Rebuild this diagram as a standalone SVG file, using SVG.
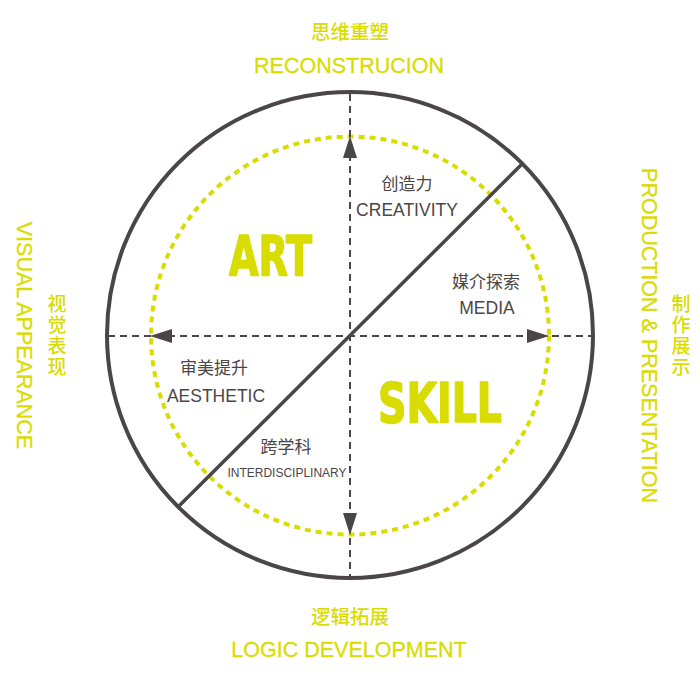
<svg xmlns="http://www.w3.org/2000/svg" width="700" height="700" viewBox="0 0 700 700">
<defs>
<style>
.gray{stroke:#4a4648;fill:none}
.axis{stroke:#4a4648;stroke-width:2;stroke-dasharray:7 5;fill:none}
.arrow{fill:#4a4648}
.ylab{fill:#d9dc00;font-family:"Liberation Sans","Noto Sans CJK SC",sans-serif;font-size:21.5px;stroke:#d9dc00;stroke-width:0.3}
.ycn{fill:#d9dc00;font-family:"Noto Sans CJK SC",sans-serif;font-size:19px;font-weight:500;text-anchor:middle}
.vcn{writing-mode:vertical-rl;letter-spacing:2px}
.glab{fill:#4a4648;font-family:"Liberation Sans","Noto Sans CJK SC",sans-serif;font-size:17.5px;text-anchor:middle}
.gcn{fill:#4a4648;font-family:"Noto Sans CJK SC",sans-serif;font-size:17px;text-anchor:middle}
.big{fill:#d9dc00;stroke:#d9dc00;stroke-width:1.6;stroke-linejoin:round;font-family:"Liberation Sans Narrow","DejaVu Sans Condensed","Liberation Sans",sans-serif;font-weight:bold;font-size:56px}
</style>
</defs>
<rect width="700" height="700" fill="#ffffff"/>
<circle cx="350" cy="335.5" r="199" fill="none" stroke="#d9dc00" stroke-width="4" stroke-dasharray="6 5"/>
<circle class="gray" cx="350" cy="335" r="243" stroke-width="4"/>
<g id="connectors">
<line class="axis" x1="350" y1="94" x2="350" y2="577"/>
<line class="axis" x1="108" y1="336" x2="592" y2="336"/>
<line class="gray" x1="178" y1="507" x2="522" y2="164" stroke-width="3.5"/>
<polygon class="arrow" points="350,136 343,158 357,158"/>
<polygon class="arrow" points="350,535 343,513 357,513"/>
<polygon class="arrow" points="150,336 172,329 172,343"/>
<polygon class="arrow" points="549,336 527,329 527,343"/>
</g>
<g id="top-label">
<text class="ycn" x="350" y="39" style="font-size:19.5px">思维重塑</text>
<text class="ylab" x="349" y="73" text-anchor="middle">RECONSTRUCION</text>
</g>
<g id="bottom-label">
<text class="ycn" x="350" y="624" style="font-size:19.5px">逻辑拓展</text>
<text class="ylab" x="349" y="657" text-anchor="middle">LOGIC DEVELOPMENT</text>
</g>
<g id="left-label">
<text class="ylab" transform="translate(17,335.5) rotate(90)" text-anchor="middle">VISUAL APPEARANCE</text>
<text class="ycn vcn" x="57" y="336">视觉表现</text>
</g>
<g id="right-label">
<text class="ylab" transform="translate(642,335.5) rotate(90)" text-anchor="middle">PRODUCTION &amp; PRESENTATION</text>
<text class="ycn vcn" x="681" y="336">制作展示</text>
</g>
<g id="art">
<text class="big" x="229" y="275" textLength="83" lengthAdjust="spacingAndGlyphs">ART</text>
</g>
<g id="skill">
<text class="big" x="378" y="422" textLength="124" lengthAdjust="spacingAndGlyphs">SKILL</text>
</g>
<g id="creativity">
<text class="gcn" x="407" y="190">创造力</text>
<text class="glab" x="407" y="216">CREATIVITY</text>
</g>
<g id="media">
<text class="gcn" x="486" y="288">媒介探索</text>
<text class="glab" x="487" y="314">MEDIA</text>
</g>
<g id="aesthetic">
<text class="gcn" x="214" y="374">审美提升</text>
<text class="glab" x="216" y="402">AESTHETIC</text>
</g>
<g id="interdisciplinary">
<text class="gcn" x="286" y="453">跨学科</text>
<text class="glab" x="287" y="477" style="font-size:12px">INTERDISCIPLINARY</text>
</g>
</svg>
